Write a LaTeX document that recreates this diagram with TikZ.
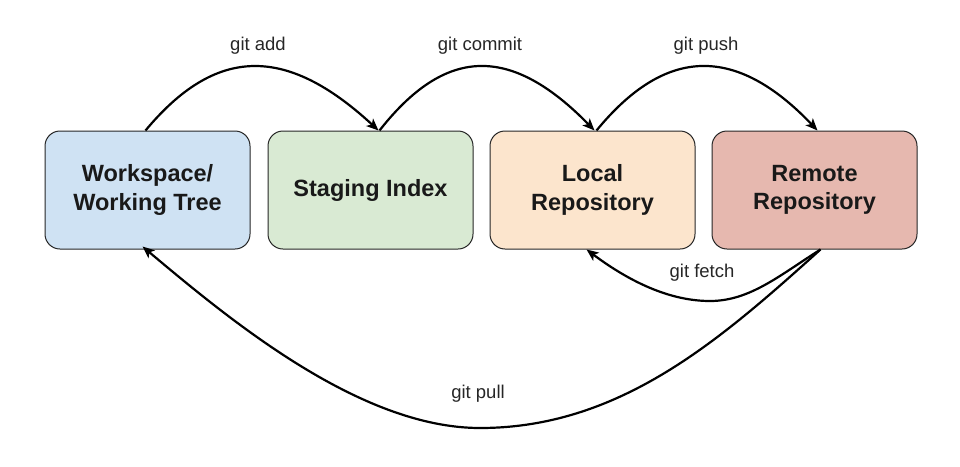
\documentclass[tikz,border=0pt]{standalone}
\usepackage{fontspec}
\setmainfont{Liberation Sans}
\usetikzlibrary{arrows.meta}
\definecolor{cblue}{HTML}{CFE2F3}
\definecolor{cgreen}{HTML}{D9EAD3}
\definecolor{corange}{HTML}{FCE5CD}
\definecolor{cred}{HTML}{E6B8AF}
\begin{document}
\begin{tikzpicture}[x=1pt,y=-1pt,
  box/.style={draw=black!85, line width=1pt, rounded corners=15pt,
    minimum width=205pt, minimum height=118pt, align=center,
    font=\fontsize{23.5}{28.5}\selectfont\bfseries, text=black!90, inner sep=0pt},
  flow/.style={line width=2.2pt, -{Stealth[length=12pt,width=10pt,inset=3pt]}},
  lbl/.style={font=\fontsize{18.5}{22}\selectfont, text=black!85}]
\useasboundingbox (0,0) rectangle (960,466);
\node[box, fill=cblue] (ws) at (147.5,190) {Workspace/\\Working Tree};
\node[box, fill=cgreen] (si) at (370.5,190) {Staging Index};
\node[box, fill=corange] (lr) at (592.5,190) {Local\\Repository};
\node[box, fill=cred] (rr) at (814.5,190) {Remote\\Repository};
% top arrows
\draw[flow] ([xshift=-2pt]ws.north) .. controls (215,47) and (285,44) .. ([xshift=8pt]si.north);
\draw[flow] ([xshift=9pt]si.north) .. controls (445,47) and (510,44) .. ([xshift=2pt]lr.north);
\draw[flow] ([xshift=4pt]lr.north) .. controls (665,47) and (735,44) .. ([xshift=3pt]rr.north);
% fetch
\coordinate (fb) at (710,301);
\draw[flow] ([xshift=6pt]rr.south) .. controls (780,275) and (750,301) .. (fb)
  .. controls (670,301) and (630,282) .. ([xshift=-6pt]lr.south);
% pull
\coordinate (pb) at (480,428);
\draw[flow] ([xshift=6pt]rr.south) .. controls (720,340) and (620,428) .. (pb)
  .. controls (360,428) and (230,320) .. ([xshift=-5pt,yshift=3pt]ws.south);
% labels
\node[lbl] (la) at (258,46) {git add};
\node[lbl] (lc) at (480,46) {git commit};
\node[lbl] (lp) at (706,46) {git push};
\node[lbl] (lf) at (702,273) {git fetch};
\node[lbl] (ll) at (478,394) {git pull};
\end{tikzpicture}
\end{document}
